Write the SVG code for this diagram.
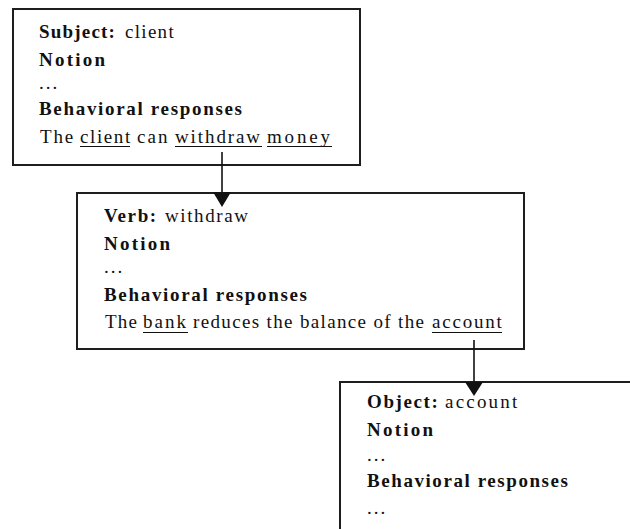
<svg xmlns="http://www.w3.org/2000/svg" width="630" height="529" viewBox="0 0 630 529">
<style>
  .box { fill: #ffffff; stroke: #1e1e1e; stroke-width: 2; }
  .t { font-family: "Liberation Serif", "Times New Roman", serif; font-size: 19px; fill: #111111; }
  .b { font-weight: bold; }
  .ul { stroke: #111111; stroke-width: 1.2; }
  .conn { stroke: #111111; stroke-width: 1.6; fill: none; }
  .head { fill: #111111; }
</style>
<rect width="630" height="529" fill="#ffffff"/>

<g id="subject">
  <rect class="box" x="13" y="9" width="347" height="156"/>
  <text class="t" y="38"><tspan class="b" x="39" letter-spacing="1.2">Subject:</tspan> <tspan x="125" letter-spacing="1.3">client</tspan></text>
  <text class="t b" x="39" y="66" textLength="66" lengthAdjust="spacing">Notion</text>
  <text class="t" x="39" y="89" letter-spacing="2">...</text>
  <text class="t b" x="39" y="115" textLength="203" lengthAdjust="spacing">Behavioral responses</text>
  <text class="t" y="143"><tspan x="40" letter-spacing="1.8">The</tspan> <tspan x="80" letter-spacing="1.6">client</tspan> <tspan x="137" letter-spacing="2.1">can</tspan> <tspan x="175" letter-spacing="1.9">withdraw</tspan> <tspan x="267" letter-spacing="2.8">money</tspan></text>
  <line class="ul" x1="80" y1="146.5" x2="130" y2="146.5"/>
  <line class="ul" x1="175" y1="146.5" x2="262" y2="146.5"/>
  <line class="ul" x1="267" y1="146.5" x2="332" y2="146.5"/>
</g>

<g id="verb">
  <rect class="box" x="77" y="193" width="447" height="156"/>
  <text class="t" y="222"><tspan class="b" x="104" letter-spacing="1.6">Verb:</tspan> <tspan x="165" letter-spacing="1.6">withdraw</tspan></text>
  <text class="t b" x="104" y="250" textLength="66" lengthAdjust="spacing">Notion</text>
  <text class="t" x="104" y="273" letter-spacing="2">...</text>
  <text class="t b" x="104" y="301" textLength="203" lengthAdjust="spacing">Behavioral responses</text>
  <text class="t" y="328"><tspan x="105" letter-spacing="1.2">The</tspan> <tspan x="143" letter-spacing="2">bank</tspan> <tspan x="193" letter-spacing="1.35">reduces the balance of the</tspan> <tspan x="432" letter-spacing="1.8">account</tspan></text>
  <line class="ul" x1="143" y1="332.5" x2="188" y2="332.5"/>
  <line class="ul" x1="432" y1="332.5" x2="502" y2="332.5"/>
</g>

<g id="object">
  <rect class="box" x="340" y="382" width="300" height="160"/>
  <text class="t" y="408"><tspan class="b" x="367" letter-spacing="1.6">Object:</tspan> <tspan x="445" letter-spacing="2.2">account</tspan></text>
  <text class="t b" x="367" y="436" textLength="66" lengthAdjust="spacing">Notion</text>
  <text class="t" x="367" y="461" letter-spacing="2">...</text>
  <text class="t b" x="367" y="487" textLength="201" lengthAdjust="spacing">Behavioral responses</text>
  <text class="t" x="367" y="514" letter-spacing="2">...</text>
</g>

<g id="connectors">
  <line class="conn" x1="222" y1="152" x2="222" y2="193"/>
  <polygon class="head" points="213,192 231,192 222,207"/>
  <line class="conn" x1="474" y1="340" x2="474" y2="382"/>
  <polygon class="head" points="465,382 483,382 474,396"/>
</g>
</svg>
